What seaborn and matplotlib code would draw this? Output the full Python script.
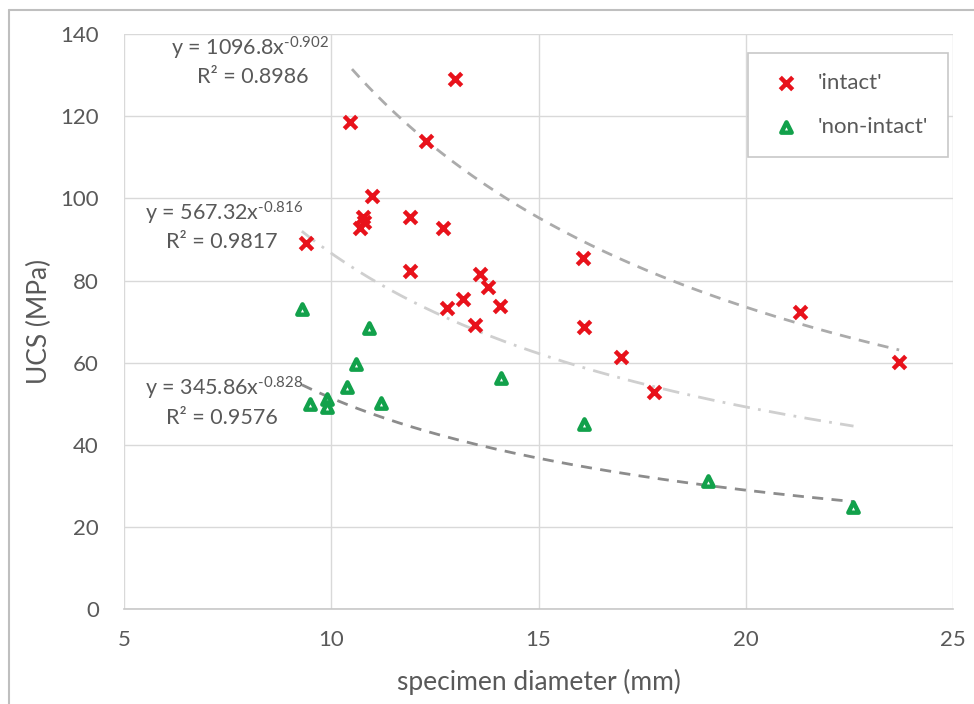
import numpy as np
import pandas as pd
import matplotlib
matplotlib.use("Agg")
import matplotlib.pyplot as plt
from matplotlib.lines import Line2D
import seaborn as sns

# ---- data ----
intact_d = [9.40, 10.46, 12.99, 12.29, 10.99, 10.77, 10.70, 10.80, 11.91, 12.70, 11.91,
            13.60, 13.78, 13.18, 12.79, 14.08, 13.48, 16.08, 16.10, 17.00, 17.79, 21.30, 23.70]
intact_ucs = [89.2, 118.6, 129.0, 114.0, 100.5, 95.4, 92.7, 94.2, 95.5, 92.8, 82.4,
              81.7, 78.5, 75.6, 73.4, 73.8, 69.3, 85.4, 68.6, 61.5, 52.9, 72.3, 60.1]
nonintact_d = [9.29, 10.90, 10.60, 10.38, 9.48, 9.90, 9.90, 11.21, 14.10, 16.10, 19.10, 22.59]
nonintact_ucs = [73.1, 68.4, 59.7, 54.0, 49.9, 51.1, 49.2, 50.1, 56.2, 45.0, 31.1, 24.9]

# power-law trendlines shown on the chart: (a, b, x_start, x_end, R2)
fit_intact = (1096.8, -0.902, 10.5, 23.7, 0.8986)
fit_all = (567.32, -0.816, 9.29, 22.6, 0.9817)
fit_nonintact = (345.86, -0.828, 9.29, 22.6, 0.9576)

x_ticks = [5, 10, 15, 20, 25]
y_ticks = [0, 20, 40, 60, 80, 100, 120, 140]

df_i = pd.DataFrame({"d": intact_d, "ucs": intact_ucs})
df_n = pd.DataFrame({"d": nonintact_d, "ucs": nonintact_ucs})

sns.set_theme(style="white")
plt.rcParams["font.family"] = ["Lato", "DejaVu Sans"]
plt.rcParams["mathtext.fontset"] = "custom"
plt.rcParams["mathtext.rm"] = "Lato"
plt.rcParams["mathtext.default"] = "regular"

fig = plt.figure(figsize=(9.74, 7.04), dpi=100)
ax = fig.add_axes([124/974, 1-609/704, (953-124)/974, (609-34.3)/704])

grid_c = "#d9d9d9"
txt_c = "#595959"

# trendlines
def curve(fit):
    a, b, x0, x1, _ = fit
    xs = np.linspace(x0, x1, 200)
    return xs, a * xs ** b

xs, ys = curve(fit_intact)
ax.plot(xs, ys, color="#ababab", lw=2, ls=(0, (4, 3)), zorder=2)
xs, ys = curve(fit_all)
ax.plot(xs, ys, color="#cfcfcf", lw=2, ls=(0, (6, 3, 1, 3)), zorder=2)
xs, ys = curve(fit_nonintact)
ax.plot(xs, ys, color="#8c8c8c", lw=2, ls=(0, (4, 3)), zorder=2)

sns.scatterplot(data=df_i, x="d", y="ucs", ax=ax, marker="x", s=80,
                color="#e8121b", linewidth=3.2, label="'intact'", zorder=4)
sns.scatterplot(data=df_n, x="d", y="ucs", ax=ax, marker="^", s=55,
                facecolor="white", edgecolor="#12a14b", linewidth=3.2,
                label="'non-intact'", zorder=4)

ax.set_xlim(5, 25)
ax.set_ylim(0, 140)
ax.set_xticks(x_ticks)
ax.set_yticks(y_ticks)
ax.grid(True, color=grid_c, lw=1)
ax.set_axisbelow(True)
for s in ["top", "right", "left"]:
    ax.spines[s].set_visible(False)
ax.spines["bottom"].set_color("#c8c8c8")
ax.spines["bottom"].set_linewidth(1.2)
ax.tick_params(axis="both", length=0, labelsize=16, colors=txt_c)
ax.tick_params(axis="x", pad=15)
ax.tick_params(axis="y", pad=18)
ax.set_xlabel("specimen diameter (mm)", fontsize=19, color=txt_c, labelpad=14)
ax.set_ylabel("UCS (MPa)", fontsize=19, color=txt_c, labelpad=6)

# trendline equations
eq_kw = dict(fontsize=15.5, color=txt_c, ha="center", va="center")
ax.text(8.04, 136.6, r"y = 1096.8x$^{\text{-0.902}}$", **eq_kw)
ax.text(8.1, 129.6, "R² = 0.8986", **eq_kw)
ax.text(7.42, 96.3, r"y = 567.32x$^{\text{-0.816}}$", **eq_kw)
ax.text(7.35, 89.4, "R² = 0.9817", **eq_kw)
ax.text(7.42, 53.8, r"y = 345.86x$^{\text{-0.828}}$", **eq_kw)
ax.text(7.35, 46.6, "R² = 0.9576", **eq_kw)

leg = ax.legend(loc="upper right", bbox_to_anchor=(947.7/974, 1-53.3/704),
                bbox_transform=fig.transFigure, fontsize=16, frameon=True,
                fancybox=False, edgecolor="#c8c8c8", framealpha=1,
                borderpad=0.9, labelspacing=1.05, handletextpad=0.6,
                handlelength=1.6, borderaxespad=0)
leg.get_frame().set_linewidth(1.2)
for t in leg.get_texts():
    t.set_color(txt_c)

# outer chart border (top and left visible)
fig.add_artist(Line2D([9/974, 9/974], [0, 1-10/704], transform=fig.transFigure,
                      color="#bfbfbf", lw=1.5))
fig.add_artist(Line2D([9/974, 1], [1-10/704, 1-10/704], transform=fig.transFigure,
                      color="#bfbfbf", lw=1.5))

fig.savefig("out.png", dpi=100, facecolor="white")
